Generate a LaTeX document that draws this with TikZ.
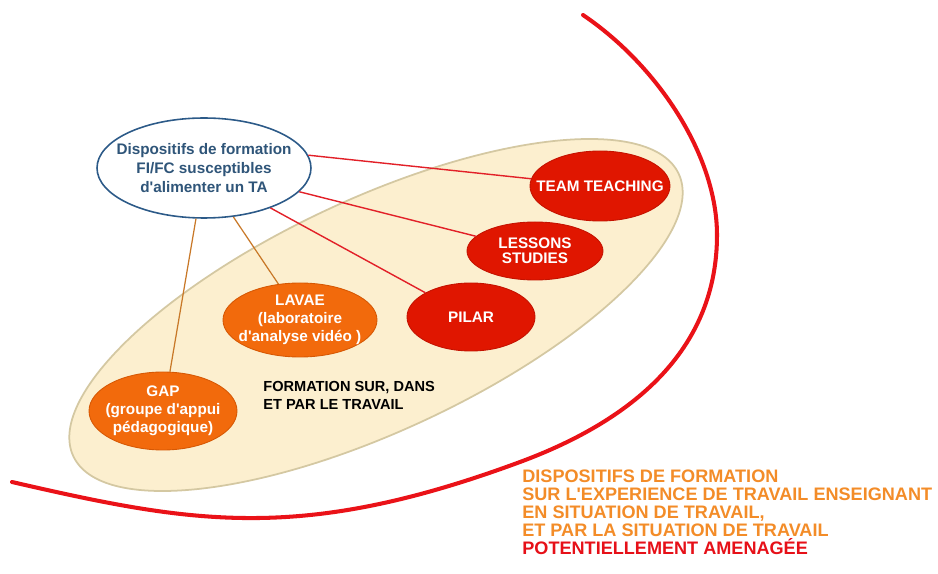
\documentclass[tikz,border=0pt]{standalone}
\usepackage{fontspec}
\setmainfont{Liberation Sans}[Ligatures=TeXOff]
\usetikzlibrary{shapes.geometric}

\definecolor{redfill}{RGB}{224,22,0}
\definecolor{redline}{RGB}{196,18,0}
\definecolor{orangefill}{RGB}{242,106,12}
\definecolor{orangeline}{RGB}{214,88,4}
\definecolor{blueline}{RGB}{44,90,136}
\definecolor{bluetext}{RGB}{47,85,121}
\definecolor{beige}{RGB}{252,239,207}
\definecolor{beigeline}{RGB}{212,200,162}
\definecolor{redlink}{RGB}{226,32,40}
\definecolor{orangelink}{RGB}{200,120,40}
\definecolor{arcred}{RGB}{234,18,24}
\definecolor{txtorange}{RGB}{243,140,40}
\definecolor{txtred}{RGB}{230,16,24}

\begin{document}
\begin{tikzpicture}[x=0.02cm,y=-0.02cm,
  blob/.style 2 args={ellipse, minimum width=#1*0.02cm, minimum height=#2*0.02cm,
    inner sep=-30pt, align=center, text=white, line width=0.5pt,
    font=\fontsize{8.7}{10.2}\selectfont\bfseries},
  redblob/.style={fill=redfill, draw=redline},
  orangeblob/.style={fill=orangefill, draw=orangeline},
  redcon/.style={draw=redlink, line width=0.8pt},
  orangecon/.style={draw=orangelink, line width=0.7pt},
  caption/.style={anchor=north west, align=left, inner sep=0pt,
    font=\fontsize{8.3}{10.2}\selectfont\bfseries}]
  \useasboundingbox (0,0) rectangle (938,574);

  % zone de travail
  \draw[fill=beige, draw=beigeline, line width=1pt, rotate around={25:(376,315)}]
    (376,315) ellipse [x radius=334, y radius=116];

  % grand arc
  \draw[arcred, line width=2.3pt, line cap=round]
    (583,15) .. controls (657,65) and (717,155) .. (717,235)
    .. controls (717,345) and (640,417.6) .. (520,462)
    .. controls (300,543.4) and (192,523.4) .. (12,482);

  \node[blob={214}{100}, fill=white, draw=blueline, text=bluetext, line width=0.9pt,
    font=\fontsize{8.7}{10.8}\selectfont\bfseries] (disp) at (204,168)
    {Dispositifs de formation\\FI/FC susceptibles\\d'alimenter un TA};

  \node[blob={140}{70}, redblob] (team) at (600,186) {TEAM TEACHING};
  \node[blob={136}{58}, redblob, font=\fontsize{8.7}{8.6}\selectfont\bfseries]
    (lessons) at (535,251) {LESSONS\\STUDIES};
  \node[blob={128}{68}, redblob] (pilar) at (471,317) {PILAR};
  \node[blob={154}{74}, orangeblob] (lavae) at (300,320)
    {LAVAE\\(laboratoire\\d'analyse vidéo )};
  \node[blob={148}{78}, orangeblob] (gap) at (163,411)
    {GAP\\(groupe d'appui\\pédagogique)};

  \draw[redcon] (disp.7) -- (team.174);
  \draw[redcon] (disp.-14) -- (lessons.166);
  \draw[redcon] (disp.-31) -- (pilar.152);
  \draw[orangecon] (disp.-59) -- (lavae.121);
  \draw[orangecon] (disp.-99) -- (gap.80);

  \node[caption] (ftext) at (263,381) {FORMATION SUR, DANS\\ET PAR LE TRAVAIL};
  \node[caption, text=txtorange, font=\fontsize{10.3}{10.2}\selectfont\bfseries]
    (dtext) at (522,470)
    {DISPOSITIFS DE FORMATION\\
     SUR L'EXPERIENCE DE TRAVAIL ENSEIGNANT\\
     EN SITUATION DE TRAVAIL,\\
     ET PAR LA SITUATION DE TRAVAIL\\
     \textcolor{txtred}{POTENTIELLEMENT AMENAGÉE}};
\end{tikzpicture}
\end{document}
